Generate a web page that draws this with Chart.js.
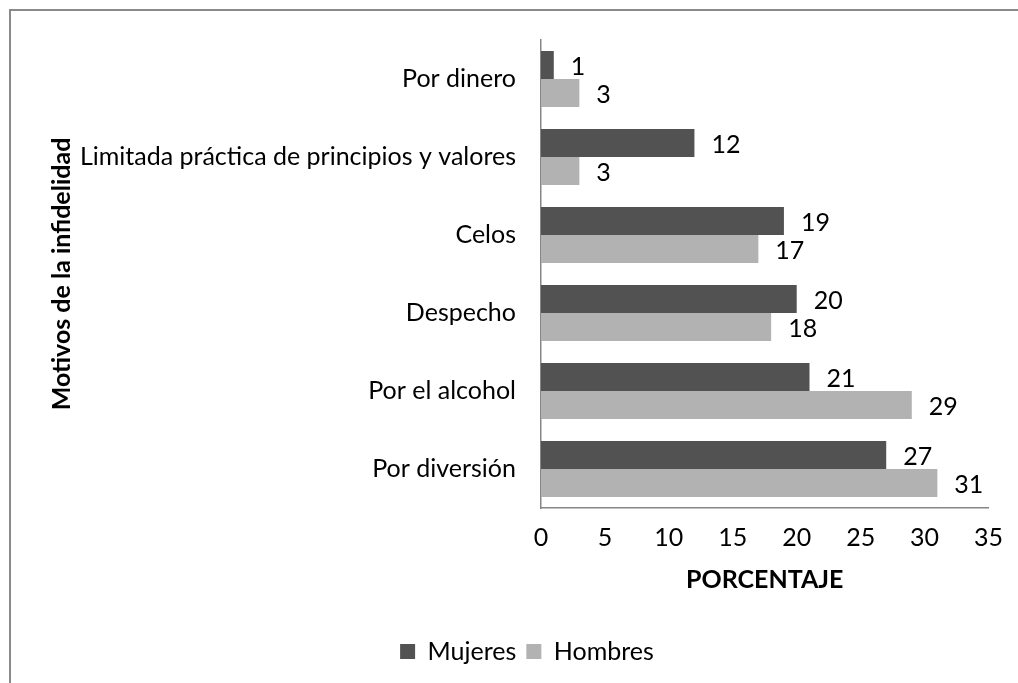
<!DOCTYPE html>
<html lang="es">
<head>
<meta charset="utf-8">
<title>Motivos de la infidelidad</title>
<script src="https://cdn.jsdelivr.net/npm/chart.js@4.4.1/dist/chart.umd.min.js"></script>
<style>
  html, body { margin: 0; padding: 0; background: #fff; overflow: hidden; }
  #wrap { position: relative; width: 1018px; height: 683px; }
  #frame {
    position: absolute; left: 9px; top: 9px; right: -20px; bottom: -20px;
    border: 2px solid #8a8a8a; pointer-events: none;
  }
  canvas { position: absolute; left: 0; top: 0; }
</style>
</head>
<body>
<div id="wrap">
  <canvas id="motivosChart" width="1018" height="683"></canvas>
  <div id="frame"></div>
</div>
<script>
  const categorias = ['Por dinero', 'Limitada práctica de principios y valores', 'Celos', 'Despecho', 'Por el alcohol', 'Por diversión'];
  const mujeres = [1, 12, 19, 20, 21, 27];
  const hombres = [3, 3, 17, 18, 29, 31];
  const ejeX = { min: 0, max: 35, paso: 5 };

  const fuente = 'Lato, "Open Sans", sans-serif';
  const tam = 25;

  // numbers printed just right of each bar end
  const etiquetasValor = {
    id: 'etiquetasValor',
    afterDatasetsDraw(chart) {
      const ctx = chart.ctx;
      ctx.save();
      ctx.font = tam + 'px ' + fuente;
      ctx.fillStyle = '#000';
      ctx.textAlign = 'left';
      ctx.textBaseline = 'middle';
      chart.data.datasets.forEach((ds, i) => {
        chart.getDatasetMeta(i).data.forEach((bar, j) => {
          ctx.fillText(String(ds.data[j]), bar.x + 17, bar.y + 2);
        });
      });
      ctx.restore();
    }
  };

  const ctx = document.getElementById('motivosChart').getContext('2d');
  new Chart(ctx, {
    type: 'bar',
    data: {
      labels: categorias,
      datasets: [
        { label: 'Mujeres', data: mujeres, backgroundColor: '#525252' },
        { label: 'Hombres', data: hombres, backgroundColor: '#b2b2b2' }
      ]
    },
    options: {
      indexAxis: 'y',
      responsive: false,
      animation: false,
      layout: { padding: { left: 60, top: 39, right: 24, bottom: 9 } },
      datasets: {
        bar: { categoryPercentage: 0.72, barPercentage: 1.0 }
      },
      scales: {
        x: {
          min: ejeX.min,
          max: ejeX.max,
          ticks: { stepSize: ejeX.paso, padding: 15, color: '#000', font: { family: fuente, size: tam } },
          grid: { display: false, drawTicks: false },
          border: { display: true, color: '#868686', width: 1.5 },
          title: {
            display: true, text: 'PORCENTAJE', color: '#000',
            font: { family: fuente, size: tam, weight: 'bold' },
            padding: { top: 0, bottom: 34 }
          },
          afterFit(scale) { scale.height = 121; }
        },
        y: {
          ticks: { padding: 25, color: '#000', font: { family: fuente, size: tam } },
          grid: { display: false, drawTicks: false },
          border: { display: true, color: '#868686', width: 1.5 },
          title: {
            display: true, text: 'Motivos de la infidelidad', color: '#000',
            font: { family: fuente, size: tam, weight: 'bold' },
            padding: { top: -13, bottom: 0 }
          },
          afterFit(scale) { scale.width = 481; }
        }
      },
      plugins: {
        legend: {
          position: 'bottom',
          labels: {
            boxWidth: 15, boxHeight: 15, padding: 10, color: '#000',
            font: { family: fuente, size: tam }
          }
        },
        tooltip: { enabled: false }
      }
    },
    plugins: [etiquetasValor]
  });
</script>
</body>
</html>
